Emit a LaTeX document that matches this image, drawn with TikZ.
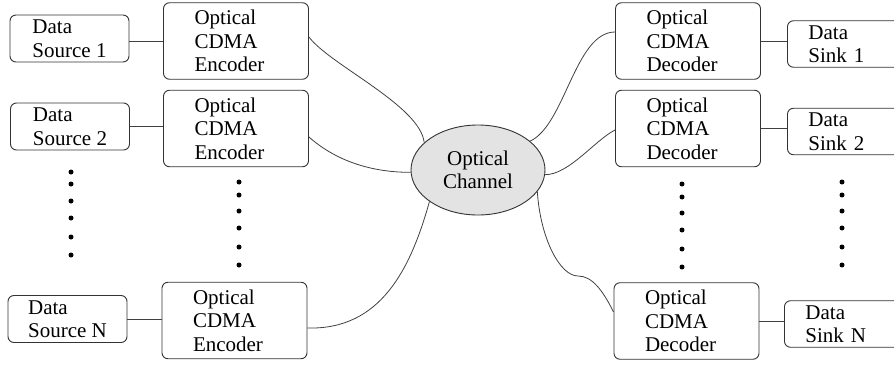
\documentclass[tikz,border=0pt]{standalone}
\usepackage{fontspec}
\setmainfont{Liberation Serif}
\usetikzlibrary{shapes.geometric,calc}
\begin{document}
\begin{tikzpicture}[x=1pt,y=1pt,
  box/.style={draw=black!80, line width=0.9pt, rounded corners=6pt, inner sep=0pt, align=left, font=\fontsize{21}{23.5}\selectfont},
  srcbox/.style={box, minimum width=119pt, minimum height=47pt},
  codbox/.style={box, minimum width=145pt, minimum height=76.5pt, text width=83pt},
  sinkbox/.style={box, anchor=west, minimum width=120pt, minimum height=46.5pt, text width=78pt},
  chan/.style={ellipse, draw=black!80, line width=0.9pt, fill=black!11, minimum width=134pt, minimum height=90pt, inner sep=0pt, align=center, font=\fontsize{21}{23.5}\selectfont},
  link/.style={draw=black!75, line width=0.8pt},
  dotmark/.style={fill=black}]
\useasboundingbox (0,0) rectangle (894,365);
\clip (0,0) rectangle (894,365);

% sources
\node[srcbox] (src1) at (69.5,326.5) {Data\\Source 1};
\node[srcbox] (src2) at (70,238.5) {Data\\Source 2};
\node[srcbox] (srcN) at (67.5,46) {Data\\Source N};

% encoders
\node[codbox] (enc1) at (236,324) {Optical\\CDMA\\Encoder};
\node[codbox] (enc2) at (236,236.5) {Optical\\CDMA\\Encoder};
\node[codbox] (encN) at (234.5,44.5) {Optical\\CDMA\\Encoder};

% decoders
\node[codbox] (dec1) at (688,324) {Optical\\CDMA\\Decoder};
\node[codbox] (dec2) at (688,236.5) {Optical\\CDMA\\Decoder};
\node[codbox] (decN) at (686.5,44) {Optical\\CDMA\\Decoder};

% sinks
\node[sinkbox] (sink1) at (787,321) {Data\\Sink 1};
\node[sinkbox] (sink2) at (787,233.5) {Data\\Sink 2};
\node[sinkbox] (sinkN) at (784,41) {Data\\Sink N};

% channel
\node[chan] (ch) at (478,195) {Optical\\Channel};

% straight links
\draw[link] (enc1.west) -- (enc1.west -| src1.east);
\draw[link] (src2.east) -- (src2.east -| enc2.west);
\draw[link] (srcN.east) -- (srcN.east -| encN.west);
\draw[link] (dec1.east) -- (dec1.east -| sink1.west);
\draw[link] (dec2.east) -- (dec2.east -| sink2.west);
\draw[link] (decN.east) -- (decN.east -| sinkN.west);

% curved links
\draw[link] ([yshift=4pt]enc1.east) .. controls +(21,-28) and +(-4,37) .. (ch.153);
\draw[link] ([yshift=-8.5pt]enc2.east) .. controls +(26,-23) and +(-41,0) .. (ch.182);
\draw[link] ([yshift=-7.5pt]encN.east) .. controls +(73,-2) and +(-19,-68) .. (ch.213);
\draw[link] ([yshift=9pt]dec1.west) .. controls +(-40,0) and +(35,16) .. (ch.29);
\draw[link] ([yshift=-1.5pt]dec2.west) .. controls +(-20,-10) and +(24,0) .. (ch.356);
\coordinate (bend) at (578,89);
\draw[link] ([yshift=9pt]decN.west) .. controls +(-11,22) and +(14,0) .. (bend)
  .. controls +(-18,0) and +(3,-47) .. (ch.340);

% dots
\foreach \y in {193,181,164,147,128,110} \fill[dotmark] (71,\y) circle (2.5);
\foreach \y in {183,170,154,137,118,100} \fill[dotmark] (239,\y) circle (2.5);
\foreach \y in {181,168,152,135,116,98} \fill[dotmark] (682,\y) circle (2.5);
\foreach \y in {183,170,154,137,118,100} \fill[dotmark] (842,\y) circle (2.5);
\end{tikzpicture}
\end{document}
